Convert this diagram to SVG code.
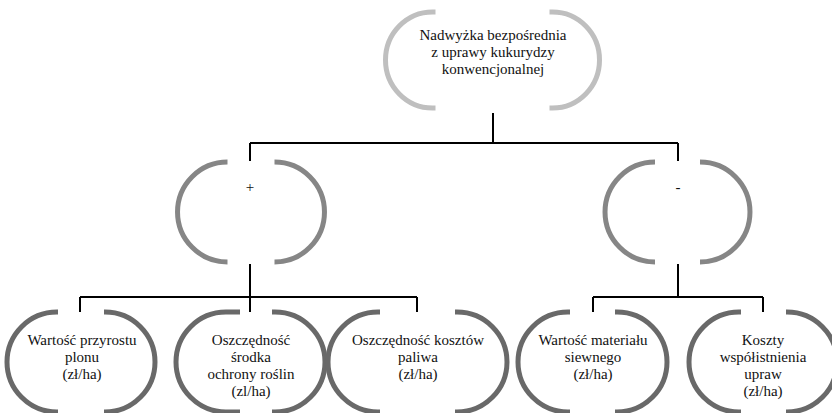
<svg xmlns="http://www.w3.org/2000/svg" width="832" height="413" viewBox="0 0 832 413">
<style>
.t{font-family:'Liberation Serif','Times New Roman','DejaVu Serif',serif;font-size:15px;fill:#111;text-anchor:middle}
.n0{fill:none;stroke:#bfbfbf;stroke-width:5}
.n1{fill:none;stroke:#868686;stroke-width:5}
.n2{fill:none;stroke:#696969;stroke-width:5}
.c{fill:none;stroke:#000;stroke-width:2}
</style>
<rect width="832" height="413" fill="#fff"/>
<g id="connectors">
<path class="c" d="M493 113V143M250 143H678M250 143V161M678 143V161"/>
<path class="c" d="M250 264V312M80 297H417M80 297V312M417 297V312"/>
<path class="c" d="M678 264V297M593 297H763M593 297V312M763 297V312"/>
</g>
<g id="root">
<path class="n0" d="M435.5 12H432.5A47 48 0 0 0 432.5 108H435.5M549.5 12H552.5A47 48 0 0 1 552.5 108H549.5"/>
<text class="t" font-family="Liberation Serif" x="493" y="40">Nadwyżka bezpośrednia</text>
<text class="t" x="493" y="57">z uprawy kukurydzy</text>
<text class="t" x="493" y="74">konwencjonalnej</text>
</g>
<g id="plus">
<path class="n1" d="M227.5 162A50 50 0 0 0 227.5 262M274.5 162A50 50 0 0 1 274.5 262"/>
<text class="t" x="250" y="192">+</text>
</g>
<g id="minus">
<path class="n1" d="M655 162A50 50 0 0 0 655 262M700 162A50 50 0 0 1 700 262"/>
<text class="t" x="678" y="192">-</text>
</g>
<g id="n1">
<path class="n2" d="M58 312H57A50 50 0 0 0 57 412H58M104 312H105A50 50 0 0 1 105 412H104"/>
<text class="t" x="82" y="345">Wartość przyrostu</text>
<text class="t" x="82" y="362">plonu</text>
<text class="t" x="82" y="379">(zł/ha)</text>
</g>
<g id="n2">
<path class="n2" d="M240 312H226A50 50 0 0 0 226 412H240M272 312H275A50 50 0 0 1 275 412H272"/>
<text class="t" x="251" y="345">Oszczędność</text>
<text class="t" x="251" y="362">środka</text>
<text class="t" x="251" y="379">ochrony roślin</text>
<text class="t" x="251" y="396">(zl/ha)</text>
</g>
<g id="n3">
<path class="n2" d="M380 312H378A50 50 0 0 0 378 412H380M455 312H457A50 50 0 0 1 457 412H455"/>
<text class="t" x="418" y="345">Oszczędność kosztów</text>
<text class="t" x="418" y="362">paliwa</text>
<text class="t" x="418" y="379">(zł/ha)</text>
</g>
<g id="n4">
<path class="n2" d="M570 312H568A50 50 0 0 0 568 412H570M615 312H617A50 50 0 0 1 617 412H615"/>
<text class="t" x="593" y="345">Wartość materiału</text>
<text class="t" x="593" y="362">siewnego</text>
<text class="t" x="593" y="379">(zł/ha)</text>
</g>
<g id="n5">
<path class="n2" d="M741 312H739A50 50 0 0 0 739 412H741M786 312H787A50 50 0 0 1 787 412H786"/>
<text class="t" x="763" y="345">Koszty</text>
<text class="t" x="763" y="362">współistnienia</text>
<text class="t" x="763" y="379">upraw</text>
<text class="t" x="763" y="396">(zł/ha)</text>
</g>
</svg>
